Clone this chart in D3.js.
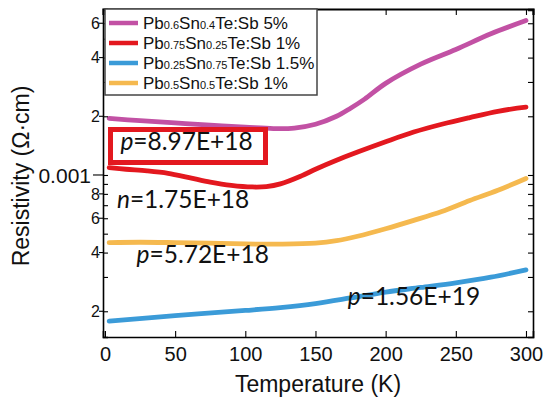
<!DOCTYPE html>
<html><head><meta charset="utf-8">
<script src="https://cdn.jsdelivr.net/npm/d3@7/dist/d3.min.js"></script>
<style>body{margin:0;background:#fff}svg{display:block}</style>
</head><body><svg id="c" width="547" height="403"></svg>
<script>
// Data (resistivity in Ω·cm)
const tempMagenta = [3, 25, 50, 75, 100, 120, 135, 150, 165, 175, 185, 200, 225, 250, 275, 300];
const rhoMagenta = [1.95e-3, 1.90e-3, 1.85e-3, 1.80e-3, 1.76e-3, 1.73e-3, 1.74e-3, 1.82e-3, 2.0e-3, 2.2e-3, 2.45e-3, 2.95e-3, 3.7e-3, 4.4e-3, 5.3e-3, 6.2e-3];
const tempRed = [3, 15, 30, 45, 60, 75, 90, 105, 115, 125, 140, 150, 165, 180, 200, 220, 240, 260, 280, 300];
const rhoRed = [1.09e-3, 1.07e-3, 1.05e-3, 1.02e-3, 0.97e-3, 0.92e-3, 0.885e-3, 0.868e-3, 0.872e-3, 0.9e-3, 0.99e-3, 1.07e-3, 1.19e-3, 1.31e-3, 1.48e-3, 1.66e-3, 1.82e-3, 1.97e-3, 2.12e-3, 2.23e-3];
const tempBlue = [3, 50, 100, 125, 150, 175, 200, 225, 250, 275, 300];
const rhoBlue = [0.178e-3, 0.19e-3, 0.202e-3, 0.209e-3, 0.219e-3, 0.234e-3, 0.251e-3, 0.265e-3, 0.28e-3, 0.299e-3, 0.326e-3];
const tempOrange = [3, 25, 50, 75, 100, 125, 150, 165, 180, 200, 220, 240, 260, 280, 300];
const rhoOrange = [0.45e-3, 0.452e-3, 0.45e-3, 0.447e-3, 0.443e-3, 0.442e-3, 0.447e-3, 0.46e-3, 0.485e-3, 0.53e-3, 0.585e-3, 0.65e-3, 0.74e-3, 0.835e-3, 0.96e-3];

const legendNames = [
  ["Pb","0.6","Sn","0.4","Te:Sb 5%"],
  ["Pb","0.75","Sn","0.25","Te:Sb 1%"],
  ["Pb","0.25","Sn","0.75","Te:Sb 1.5%"],
  ["Pb","0.5","Sn","0.5","Te:Sb 1%"]
];
const colors = ["#c251a4", "#e3181f", "#3b9bd8", "#f5b94f"];
const xTicks = [0, 50, 100, 150, 200, 250, 300];
const yTickVals = [2e-4,3e-4,4e-4,5e-4,6e-4,7e-4,8e-4,9e-4,1e-3,2e-3,3e-3,4e-3,5e-3,6e-3,7e-3];
const yTickLabelVals = [2e-4, 4e-4, 6e-4, 8e-4, 1e-3, 2e-3, 4e-3, 6e-3];
const yTickLabels = ["2", "4", "6", "8", "0.001", "2", "4", "6"];
const annotations = [
  {it:"p", rest:"=8.97E+18", T:11, rho:1.35e-3},
  {it:"n", rest:"=1.75E+18", T:8.5, rho:0.68e-3},
  {it:"p", rest:"=5.72E+18", T:22.5, rho:0.355e-3},
  {it:"p", rest:"=1.56E+19", T:173, rho:0.215e-3}
];

const svg = d3.select("#c");
const L = 103, R = 533, T = 9, B = 337;
const x = d3.scaleLinear().domain([-1.4, 305]).range([L, R]);
const y = d3.scaleLog().domain([1.476e-4, 7.1e-3]).range([B, T]);

// curves
const series = [
  [tempMagenta, rhoMagenta], [tempRed, rhoRed], [tempBlue, rhoBlue], [tempOrange, rhoOrange]
];
const line = d3.line().x(d => x(d[0])).y(d => y(d[1])).curve(d3.curveCatmullRom.alpha(0.5));
series.forEach((s, i) => {
  const pts = s[0].map((t, j) => [t, s[1][j]]);
  svg.append("path").attr("d", line(pts)).attr("fill", "none")
    .attr("stroke", colors[i]).attr("stroke-width", 4.8).attr("stroke-linecap", "round");
});

// axes (ticks inward)
const axFont = "Liberation Sans, Arial, sans-serif";
const gB = svg.append("g").attr("transform", `translate(0,${B})`)
  .call(d3.axisBottom(x).tickValues(xTicks).tickSize(-6).tickPadding(10).tickFormat(d3.format("d")));
const gTop = svg.append("g").attr("transform", `translate(0,${T})`)
  .call(d3.axisTop(x).tickValues(xTicks).tickSize(-6).tickFormat(""));
const gL = svg.append("g").attr("transform", `translate(${L},0)`)
  .call(d3.axisLeft(y).tickValues(yTickVals).tickSize(-5).tickFormat(""));
const gR = svg.append("g").attr("transform", `translate(${R},0)`)
  .call(d3.axisRight(y).tickValues(yTickVals).tickSize(-5).tickFormat(""));
[gB, gTop, gL, gR].forEach(g => {
  g.select(".domain").attr("stroke", "#000").attr("stroke-width", 1.6);
  g.selectAll(".tick line").attr("stroke", "#000").attr("stroke-width", 1.1);
});
gTop.select(".domain").attr("stroke-width", 2.2);
gB.selectAll(".tick text").attr("font-family", axFont).attr("font-size", 20).attr("fill", "#111");

// y tick labels
yTickLabelVals.forEach((v, i) => {
  const lab = yTickLabels[i];
  const big = lab === "0.001";
  svg.append("line").attr("x1", L - (big ? 10 : 4)).attr("x2", L).attr("y1", y(v)).attr("y2", y(v))
    .attr("stroke", "#000").attr("stroke-width", 1.1);
  svg.append("text").attr("x", big ? 91 : 100).attr("y", y(v)).attr("dy", "0.36em")
    .attr("text-anchor", "end").attr("font-family", axFont).attr("font-size", big ? 21 : 16)
    .attr("fill", "#111").text(lab);
});

// axis titles
svg.append("text").attr("x", 318).attr("y", 392).attr("text-anchor", "middle")
  .attr("font-family", axFont).attr("font-size", 23).attr("fill", "#111").text("Temperature (K)");
svg.append("text").attr("transform", "translate(29,176) rotate(-90)").attr("text-anchor", "middle")
  .attr("font-family", axFont).attr("font-size", 23).attr("fill", "#111").text("Resistivity (Ω·cm)");

// legend
const lg = svg.append("g");
lg.append("rect").attr("x", 105).attr("y", 9).attr("width", 212).attr("height", 86)
  .attr("fill", "#fff").attr("stroke", "#444").attr("stroke-width", 1.5);
legendNames.forEach((parts, i) => {
  const ry = 23 + i * 20;
  lg.append("line").attr("x1", 109).attr("x2", 138).attr("y1", ry).attr("y2", ry)
    .attr("stroke", colors[i]).attr("stroke-width", 4.5);
  const t = lg.append("text").attr("x", 143).attr("y", ry + 6).attr("font-family", axFont)
    .attr("font-size", 17).attr("fill", "#111");
  parts.forEach((p, j) => {
    t.append("tspan").attr("font-size", j % 2 === 1 && j < 4 ? 11 : 17).text(p);
  });
});

// annotations
const annFont = "Lato, 'Open Sans', sans-serif";
annotations.forEach(a => {
  const t = svg.append("text").attr("x", x(a.T)).attr("y", y(a.rho))
    .attr("font-family", annFont).attr("font-size", 24.5).attr("fill", "#111");
  t.append("tspan").attr("font-style", "italic").text(a.it);
  t.append("tspan").text(a.rest);
});
// red box around first annotation
svg.append("rect").attr("x", 110.5).attr("y", 129.5).attr("width", 155).attr("height", 33)
  .attr("fill", "none").attr("stroke", "#e3181f").attr("stroke-width", 5);
</script>
</body></html>
